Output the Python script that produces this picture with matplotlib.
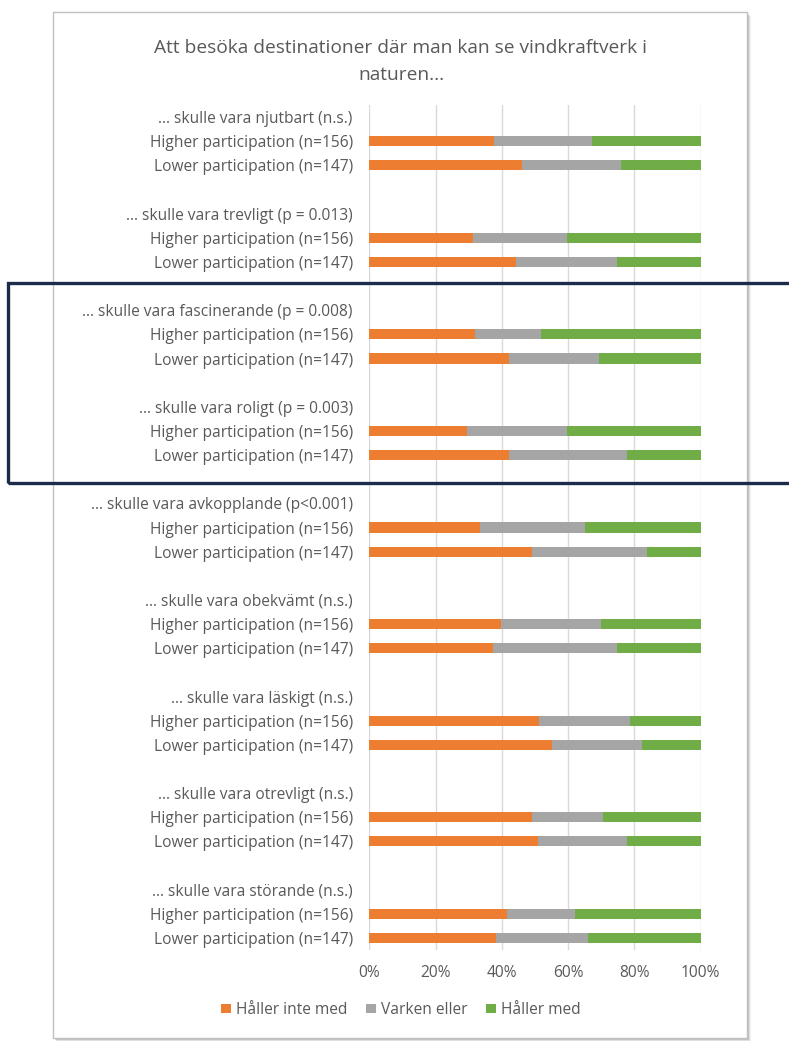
import matplotlib.pyplot as plt
from matplotlib.patches import Rectangle
import numpy as np

plt.rcParams['font.family'] = ['Open Sans', 'DejaVu Sans']

# rubriker och grupper
rubriker = ['... skulle vara njutbart (n.s.)',
            '... skulle vara trevligt (p = 0.013)',
            '... skulle vara fascinerande (p = 0.008)',
            '... skulle vara roligt (p = 0.003)',
            '... skulle vara avkopplande (p<0.001)',
            '... skulle vara obekvämt (n.s.)',
            '... skulle vara läskigt (n.s.)',
            '... skulle vara otrevligt (n.s.)',
            '... skulle vara störande (n.s.)']
grupper = ['Higher participation (n=156)', 'Lower participation (n=147)']

# andelar i procent, [higher, lower] per påstående
inte_med = [[37.6, 46.2], [31.4, 44.2], [32.0, 42.3], [29.4, 42.3], [33.3, 49.0],
            [39.7, 37.2], [51.2, 55.1], [49.2, 50.9], [41.5, 38.2]]
varken = [[29.6, 29.9], [28.3, 30.6], [19.8, 27.0], [30.3, 35.4], [31.9, 34.7],
          [30.1, 37.6], [27.5, 27.1], [21.2, 26.8], [20.7, 27.7]]
med = [[32.8, 23.9], [40.3, 25.2], [48.2, 30.7], [40.3, 22.3], [34.8, 16.3],
       [30.2, 25.2], [21.3, 17.8], [29.6, 22.3], [37.8, 34.1]]

serier = ['Håller inte med', 'Varken eller', 'Håller med']
farger = ['#ED7D31', '#A5A5A5', '#70AD47']
textfarg = '#595959'
fs = 11.2

W, H = 789, 1041
fig = plt.figure(figsize=(W / 100, H / 100), dpi=100)
fig.patch.set_facecolor('white')

# ram med skugga
for i, a in enumerate([0.05, 0.08, 0.12]):
    d = 4 - i
    fig.add_artist(Rectangle(((53 + d) / W, 1 - (1038 + d) / H), 694 / W, 1026 / H,
                             transform=fig.transFigure, facecolor='black', alpha=a,
                             edgecolor='none', zorder=-6))
fig.add_artist(Rectangle((53 / W, 1 - 1038 / H), 694 / W, 1026 / H,
                         transform=fig.transFigure, facecolor='white',
                         edgecolor='#BFBFBF', lw=1, zorder=-5))

ax = fig.add_axes([369.3 / W, 1 - 950 / H, 331.4 / W, 845 / H])
ax.set_facecolor('none')

ypos, ylabels = [], []
bar_y, v1, v2, v3 = [], [], [], []
for g, rub in enumerate(rubriker):
    ypos.append(4 * g)
    ylabels.append(rub)
    for k, grp in enumerate(grupper):
        ypos.append(4 * g + 1 + k)
        ylabels.append(grp)
        bar_y.append(4 * g + 1 + k)
        v1.append(inte_med[g][k])
        v2.append(varken[g][k])
        v3.append(med[g][k])

bar_y = np.array(bar_y)
v1, v2, v3 = np.array(v1), np.array(v2), np.array(v3)
h = 0.42
ax.barh(bar_y, v1, height=h, color=farger[0], label=serier[0], zorder=3)
ax.barh(bar_y, v2, left=v1, height=h, color=farger[1], label=serier[1], zorder=3)
ax.barh(bar_y, v3, left=v1 + v2, height=h, color=farger[2], label=serier[2], zorder=3)

ax.set_xlim(0, 100)
ax.set_ylim(34.5, -0.5)
ax.set_xticks(np.arange(0, 101, 20))
ax.set_xticklabels([f'{x}%' for x in range(0, 101, 20)])
ax.set_yticks(ypos)
ax.set_yticklabels(ylabels)
ax.tick_params(axis='both', length=0, colors=textfarg, labelsize=fs)
ax.tick_params(axis='y', pad=12)
ax.tick_params(axis='x', pad=11)
ax.grid(axis='x', color='#D9D9D9', lw=1, zorder=0)
for s in ax.spines.values():
    s.set_visible(False)

fig.text(401 / W, 1 - 48 / H, 'Att besöka destinationer där man kan se vindkraftverk i',
         ha='center', va='center', fontsize=13.8, color=textfarg)
fig.text(401 / W, 1 - 75 / H, 'naturen...', ha='center', va='center',
         fontsize=13.8, color=textfarg)

fig.legend(loc='center', bbox_to_anchor=(401 / W, 1 - 1010 / H), ncol=3, frameon=False,
           fontsize=fs, labelcolor=textfarg, handlelength=0.6, handleheight=0.6,
           handletextpad=0.35, columnspacing=1.2)

# markering runt fascinerande/roligt
fig.add_artist(Rectangle((8 / W, 1 - 483 / H), 800 / W, 200 / H,
                         transform=fig.transFigure, facecolor='none',
                         edgecolor='#1C2B4A', lw=2.4, zorder=10, clip_on=False))

fig.savefig('out.png', dpi=100)
